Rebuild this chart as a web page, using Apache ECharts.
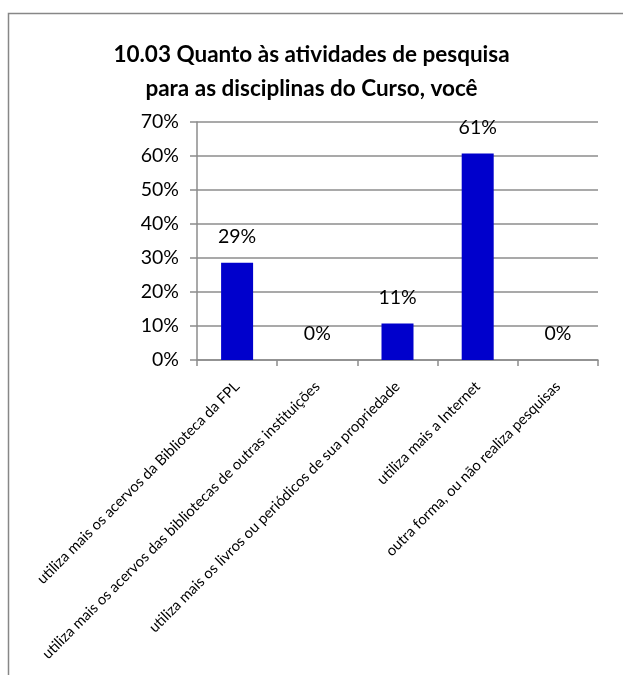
<!DOCTYPE html>
<html>
<head>
<meta charset="utf-8">
<script src="https://cdn.jsdelivr.net/npm/echarts@6/dist/echarts.min.js"></script>
<style>
    html, body { margin: 0; padding: 0; background: #fff; }
    #chart { width: 623px; height: 675px; }
</style>
</head>
<body>
<div id="chart"></div>
<script>
const titleText = '10.03 Quanto às atividades de pesquisa\npara as disciplinas do Curso, você';
const categories = [
    'utiliza mais os acervos da Biblioteca da FPL',
    'utiliza mais os acervos das bibliotecas de outras instituições',
    'utiliza mais os livros ou periódicos de sua propriedade',
    'utiliza mais a Internet',
    'outra forma, ou não realiza pesquisas'
];
const values = [0.2857, 0, 0.1071, 0.6071, 0];
const yTicks = [0, 0.1, 0.2, 0.3, 0.4, 0.5, 0.6, 0.7];

const fontFamily = 'Lato, "Open Sans", sans-serif';
const chart = echarts.init(document.getElementById('chart'));

let option = {
    backgroundColor: '#ffffff',
    animation: false,
    graphic: [
        {
            type: 'rect',
            shape: { x: 8.5, y: 13.5, width: 700, height: 700 },
            style: { fill: 'none', stroke: '#878787', lineWidth: 1.5 }
        }
    ],
    title: {
        text: titleText,
        left: 'center',
        top: 33,
        textStyle: {
            fontFamily: fontFamily,
            fontSize: 22.5,
            fontWeight: 'bold',
            color: '#000',
            lineHeight: 34
        }
    },
    grid: {
        left: 197,
        right: 25,
        top: 122,
        bottom: 315
    },
    xAxis: {
        type: 'category',
        data: categories,
        axisLine: { lineStyle: { color: '#8c8c8c', width: 1.5 } },
        axisTick: { show: true, length: 6, lineStyle: { color: '#8c8c8c', width: 1.5 } },
        axisLabel: {
            interval: 0,
            rotate: 45,
            margin: 24,
            fontFamily: fontFamily,
            fontSize: 14.8,
            color: '#000'
        }
    },
    yAxis: {
        type: 'value',
        min: yTicks[0],
        max: yTicks[yTicks.length - 1],
        interval: 0.1,
        axisLine: { show: true, lineStyle: { color: '#8c8c8c', width: 1.5 } },
        axisTick: { show: true, length: 7, lineStyle: { color: '#8c8c8c', width: 1.5 } },
        splitLine: { lineStyle: { color: '#8c8c8c', width: 1.5 } },
        axisLabel: {
            margin: 18,
            fontFamily: fontFamily,
            fontSize: 19.5,
            color: '#000',
            formatter: function (v) {
                return Math.round(v * 100) + '%';
            }
        }
    },
    series: [
        {
            type: 'bar',
            data: values,
            barWidth: 32,
            itemStyle: { color: '#0000cc' },
            label: {
                show: true,
                position: 'top',
                distance: 16,
                fontFamily: fontFamily,
                fontSize: 19.5,
                color: '#000',
                formatter: function (p) {
                    return Math.round(p.value * 100) + '%';
                }
            }
        }
    ]
};
chart.setOption(option);
</script>
</body>
</html>
